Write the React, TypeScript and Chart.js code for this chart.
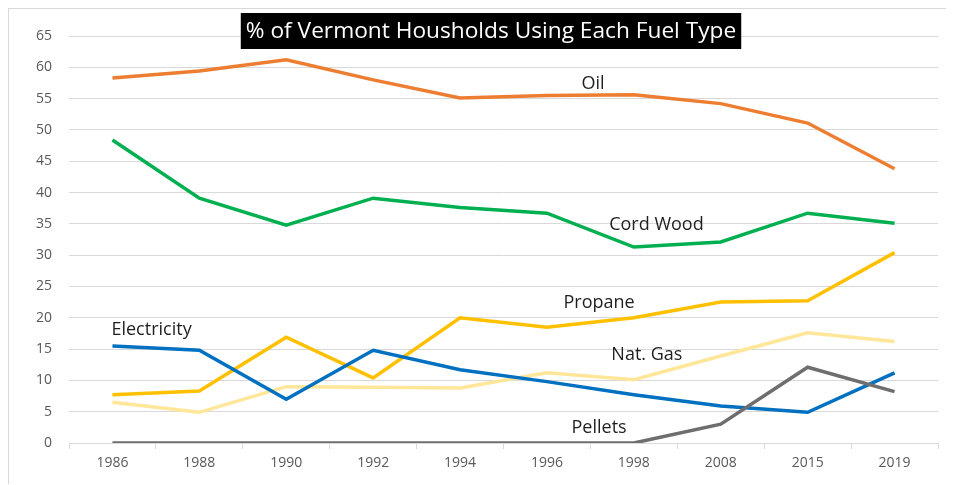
import React, { useEffect, useRef } from "react";
import { Chart, registerables } from "chart.js";

Chart.register(...registerables);

const years = ["1986", "1988", "1990", "1992", "1994", "1996", "1998", "2008", "2015", "2019"];
const oil = [58.3, 59.4, 61.2, 58.0, 55.1, 55.5, 55.6, 54.2, 51.1, 43.8];
const cordWood = [48.4, 39.1, 34.8, 39.1, 37.6, 36.7, 31.3, 32.1, 36.7, 35.1];
const propane = [7.7, 8.3, 16.9, 10.4, 20.0, 18.5, 20.0, 22.5, 22.7, 30.4];
const natGas = [6.5, 4.9, 9.0, 8.9, 8.8, 11.2, 10.1, 13.9, 17.6, 16.2];
const electricity = [15.5, 14.8, 7.0, 14.8, 11.7, 9.8, 7.7, 5.9, 4.9, 11.2];
const pellets = [0, 0, 0, 0, 0, 0, 0, 3.0, 12.1, 8.2];

const titleText = "% of Vermont Housholds Using Each Fuel Type";
const seriesNames = ["Oil", "Cord Wood", "Propane", "Nat. Gas", "Electricity", "Pellets"];
// where each series name sits, in data space: category index and value
const nameAtIndex = [5.53, 6.26, 5.6, 6.15, 0.45, 5.6];
const nameAtValue = [57.4, 34.8, 22.3, 14.0, 18.0, 2.4];

const FONT = "'Open Sans', sans-serif";

const titlePlugin = {
  id: "boxTitle",
  afterDraw(chart: any) {
    const ctx = chart.ctx;
    ctx.save();
    const size = 22.7;
    ctx.font = `${size}px ${FONT}`;
    const w = ctx.measureText(titleText).width;
    const cx = 482;
    const boxW = w + 10;
    const top = 4;
    const h = 36;
    ctx.fillStyle = "#000000";
    ctx.fillRect(cx - boxW / 2, top, boxW, h);
    ctx.fillStyle = "#ffffff";
    ctx.textAlign = "center";
    ctx.textBaseline = "middle";
    ctx.fillText(titleText, cx, top + h / 2 + 1);
    ctx.restore();
  },
};

const namesPlugin = {
  id: "seriesNames",
  afterDatasetsDraw(chart: any) {
    const ctx = chart.ctx;
    const xs = chart.scales.x;
    const ys = chart.scales.y;
    ctx.save();
    ctx.font = `18px ${FONT}`;
    ctx.fillStyle = "#1f1f1f";
    ctx.textAlign = "center";
    ctx.textBaseline = "middle";
    seriesNames.forEach((n, i) => {
      ctx.fillText(n, xs.getPixelForValue(nameAtIndex[i]), ys.getPixelForValue(nameAtValue[i]));
    });
    ctx.restore();
  },
};

export default function App() {
  const ref = useRef<HTMLCanvasElement>(null);
  useEffect(() => {
    document.body.style.overflow = "hidden";
    const mk = (label: string, data: number[], color: string) => ({
      label,
      data,
      borderColor: color,
      backgroundColor: color,
      borderWidth: 3.5,
      pointRadius: 0,
      tension: 0,
      fill: false,
    });
    const chart = new Chart(ref.current!, {
      type: "line",
      data: {
        labels: years,
        datasets: [
          mk("Pellets", pellets, "#6e6e6e"),
          mk("Electricity", electricity, "#0070C0"),
          mk("Oil", oil, "#ED7D31"),
          mk("Cord Wood", cordWood, "#00B050"),
          mk("Propane", propane, "#FFC000"),
          mk("Nat. Gas", natGas, "#FFE699"),
        ],
      },
      options: {
        responsive: false,
        animation: false,
        layout: { padding: { left: 0, top: 27, right: 16, bottom: 0 } },
        plugins: { legend: { display: false }, tooltip: { enabled: false }, title: { display: false } },
        scales: {
          x: {
            type: "category",
            offset: true,
            grid: {
              offset: true,
              drawOnChartArea: false,
              drawTicks: true,
              tickLength: 6,
              color: "#d9d9d9",
            },
            border: { display: true, color: "#d9d9d9" },
            ticks: { color: "#595959", font: { family: FONT, size: 14 }, padding: 6, maxRotation: 0 },
            afterFit(scale: any) {
              scale.height = 41;
            },
          },
          y: {
            min: 0,
            max: 65,
            ticks: { stepSize: 5, color: "#595959", font: { family: FONT, size: 14 }, padding: 17 },
            grid: { color: "#d9d9d9", drawTicks: false },
            border: { display: false },
            afterFit(scale: any) {
              scale.width = 60;
            },
          },
        },
      },
      plugins: [namesPlugin, titlePlugin],
    });
    return () => chart.destroy();
  }, []);
  return (
    <div
      style={{
        width: 946,
        height: 476,
        boxSizing: "border-box",
        borderLeft: "1px solid #d9d9d9",
        borderTop: "1px solid #d9d9d9",
        background: "#fff",
      }}
    >
      <canvas ref={ref} width={945} height={475} style={{ display: "block" }} />
    </div>
  );
}
